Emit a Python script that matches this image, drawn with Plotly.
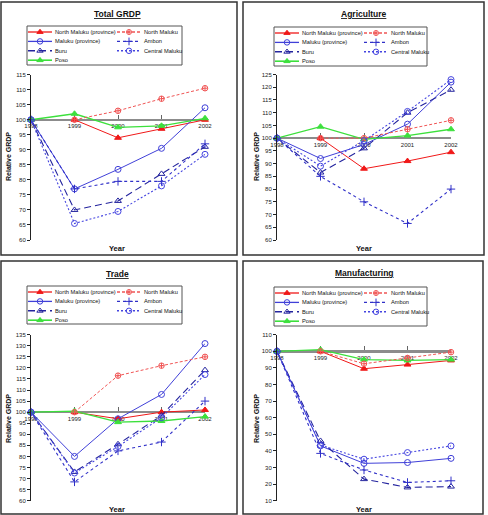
import plotly.graph_objects as go

W, H = 488, 515

# ---------------- data ----------------
years = [1998, 1999, 2000, 2001, 2002]
year_labels = ["1998", "1999", "2000", "2001", "2002"]
series_names = ["North Maluku (province)", "North Maluku", "Maluku (province)",
                "Ambon", "Buru", "Central Maluku", "Poso"]

total_grdp = [
    [None, 100, 94, 97, 100],
    [None, 100, 103, 107, 110.5],
    [100, 77, 83.5, 90.5, 104],
    [100, 77, 79.5, 79.5, 92],
    [100, 70, 73, 82, 91],
    [100, 65.5, 69.5, 78, 88.5],
    [100, 102, 97.5, 98, 100.5],
]
agriculture = [
    [None, 100, 88, 91, 94.5],
    [None, 100, 100, 103.5, 107],
    [100, 92, 97.5, 105.5, 122],
    [100, 85, 75, 66.5, 80],
    [100, 86.5, 96, 110, 119],
    [100, 89, 99, 110.5, 123],
    [100, 104.5, 99.5, 101, 103.5],
]
trade = [
    [None, 100, 97, 100, 101],
    [None, 100, 116.5, 121, 125],
    [100, 80, 97, 108, 131],
    [100, 68.5, 82.5, 86.5, 105],
    [100, 73, 85.5, 98.5, 119],
    [100, 72.5, 84.5, 97.5, 117],
    [100, 100.5, 95.5, 96, 98],
]
manufacturing = [
    [None, 100, 89.5, 92, 94.5],
    [None, 100, 92.5, 96, 99.5],
    [100, 43, 32.5, 33, 35.5],
    [100, 38.5, 28.5, 21, 22],
    [100, 46, 23, 18, 18.5],
    [100, 43.5, 35, 39, 43],
    [100, 101, 95, 94.5, 95],
]
panel_titles = ["Total GRDP", "Agriculture", "Trade", "Manufacturing"]
panel_data = [total_grdp, agriculture, trade, manufacturing]
y_ranges = [(60, 115), (60, 125), (60, 135), (10, 110)]
y_dticks = [5, 5, 5, 10]

# ---------------- styles ----------------
styles = [
    dict(color="#F01818", dash="solid", symbol="triangle-up", width=1.0, size=6),
    dict(color="#F05555", dash="3px,2px", symbol="circle-cross-open", width=1.0, size=5.5),
    dict(color="#4040D8", dash="solid", symbol="circle-open", width=1.0, size=6),
    dict(color="#3030C8", dash="dot", symbol="cross-thin-open", width=1.1, size=6),
    dict(color="#24249E", dash="7px,4px", symbol="triangle-up-open", width=1.1, size=6),
    dict(color="#4545E0", dash="2px,2px", symbol="circle-open", width=1.1, size=6),
    dict(color="#3CE03C", dash="solid", symbol="triangle-up", width=1.3, size=6),
]
draw_order = [0, 2, 4, 6, 1, 3, 5]

# ---------------- layout geometry (pixels) ----------------
plot_px = [(31, 205, 74.7, 240), (277, 451, 74.5, 240),
           (31, 205, 334.7, 500.7), (277, 451, 334.7, 500.7)]
border_px = [(1, 237, 2, 255), (243, 484, 2, 255),
             (1, 237, 261, 514), (243, 483, 261, 514)]
legend_px = [(27, 182, 26, 65), (274, 427, 27, 66),
             (27, 182, 286, 324), (274, 427, 287, 326)]
title_px = [(117, 14), (364, 14), (117, 274), (364, 273)]
ytitle_px = [(8, 157), (256, 157), (8, 419), (256, 419)]
xtitle_px = [(117, 249), (364, 249), (117, 509), (364, 509)]


def fx(px):
    return px / W


def fy(py):
    return 1 - py / H


FONT = "Liberation Sans, Arial, sans-serif"
fig = go.Figure()
layout = dict(template="none", width=W, height=H, autosize=False,
              margin=dict(l=0, r=0, t=0, b=0, pad=0),
              paper_bgcolor="white", plot_bgcolor="rgba(0,0,0,0)",
              showlegend=False, font=dict(family=FONT, color="#111111"),
              shapes=[], annotations=[])

for k in range(4):
    xl, xr, yt, yb = plot_px[k]
    ymin, ymax = y_ranges[k]
    ax = "" if k == 0 else str(k + 1)
    p100 = yt + (ymax - 100) / (ymax - ymin) * (yb - yt)
    layout["xaxis" + ax] = dict(
        domain=[fx(xl), fx(xr)], range=[1998, 2002], anchor="free", position=fy(p100),
        showline=True, linecolor="#8C8C8C", linewidth=2.2, ticks="inside", ticklen=4,
        tickcolor="#666666", tickwidth=1, tickvals=years, ticktext=year_labels,
        tickfont=dict(size=6, family=FONT, color="#222222"), showgrid=False,
        zeroline=False, layer="below traces", fixedrange=True, automargin=False)
    layout["yaxis" + ax] = dict(
        domain=[fy(yb), fy(yt)], range=[ymin, ymax], anchor="x" + ax, dtick=y_dticks[k],
        tick0=0, showline=True, linecolor="#222222", linewidth=1, ticks="outside",
        ticklen=3, tickcolor="#222222", tickfont=dict(size=6, family=FONT, color="#222222"),
        showgrid=False, zeroline=False, fixedrange=True, automargin=False)

    for i in draw_order:
        s = styles[i]
        fig.add_trace(go.Scatter(
            x=years, y=panel_data[k][i], xaxis="x" + ax, yaxis="y" + ax,
            mode="lines+markers", cliponaxis=False, hoverinfo="skip",
            line=dict(color=s["color"], width=s["width"], dash=s["dash"]),
            marker=dict(symbol=s["symbol"], size=s["size"], color=s["color"],
                        line=dict(color=s["color"], width=1))))

    # legend (drawn on a hidden helper axis over the legend box)
    lx0, lx1, ly0, ly1 = legend_px[k]
    lax = str(k + 5)
    layout["xaxis" + lax] = dict(domain=[fx(lx0), fx(lx1)], range=[0, lx1 - lx0],
                                 visible=False, fixedrange=True, anchor="y" + lax,
                                 automargin=False)
    layout["yaxis" + lax] = dict(domain=[fy(ly1), fy(ly0)], range=[ly1 - ly0, 0],
                                 visible=False, fixedrange=True, anchor="x" + lax,
                                 automargin=False)
    for i, name in enumerate(series_names):
        s = styles[i]
        col, row = i % 2, i // 2
        x0 = 1 + col * 89
        yy = 6 + row * 9.4
        fig.add_trace(go.Scatter(
            x=[x0, x0 + 24], y=[yy, yy], xaxis="x" + lax, yaxis="y" + lax,
            mode="lines", cliponaxis=False, hoverinfo="skip",
            line=dict(color=s["color"], width=s["width"] + 0.3, dash=s["dash"])))
        fig.add_trace(go.Scatter(
            x=[x0 + 12], y=[yy], xaxis="x" + lax, yaxis="y" + lax,
            mode="markers", cliponaxis=False, hoverinfo="skip",
            marker=dict(symbol=s["symbol"], size=s["size"] - 0.5, color=s["color"],
                        line=dict(color=s["color"], width=1))))
        layout["annotations"].append(dict(
            text=name, x=x0 + 25, y=yy, xref="x" + lax, yref="y" + lax,
            xanchor="left", yanchor="middle", showarrow=False,
            font=dict(size=5.7, family=FONT, color="#111111")))
    layout["shapes"].append(dict(type="rect", xref="paper", yref="paper",
                                 x0=fx(lx0), x1=fx(lx1), y0=fy(ly1), y1=fy(ly0),
                                 line=dict(color="#555555", width=1)))

    # panel border
    bx0, bx1, by0, by1 = border_px[k]
    layout["shapes"].append(dict(type="rect", xref="paper", yref="paper",
                                 x0=fx(bx0), x1=fx(bx1), y0=fy(by1), y1=fy(by0),
                                 line=dict(color="#333333", width=1.5)))

    tx, ty = title_px[k]
    layout["annotations"].append(dict(
        text="<b><u>" + panel_titles[k] + "</u></b>", x=fx(tx), y=fy(ty), xref="paper",
        yref="paper", showarrow=False, xanchor="center", yanchor="middle",
        font=dict(size=8.5, family=FONT, color="#111111")))
    yx, yy_ = ytitle_px[k]
    layout["annotations"].append(dict(
        text="<b>Relative GRDP</b>", x=fx(yx), y=fy(yy_), xref="paper", yref="paper",
        showarrow=False, textangle=-90, xanchor="center", yanchor="middle",
        font=dict(size=7, family=FONT, color="#111111")))
    xx, xy = xtitle_px[k]
    layout["annotations"].append(dict(
        text="<b>Year</b>", x=fx(xx), y=fy(xy), xref="paper", yref="paper",
        showarrow=False, xanchor="center", yanchor="middle",
        font=dict(size=7.5, family=FONT, color="#111111")))

fig.update_layout(**layout)
fig.write_html("out.html", config={"displayModeBar": False, "staticPlot": True})

# remove the browser's default page margin so the figure sits at (0, 0)
with open("out.html", encoding="utf-8") as f:
    html = f.read()
html = html.replace("<head>", "<head><style>html,body{margin:0;padding:0;overflow:hidden;}</style>", 1)
with open("out.html", "w", encoding="utf-8") as f:
    f.write(html)
